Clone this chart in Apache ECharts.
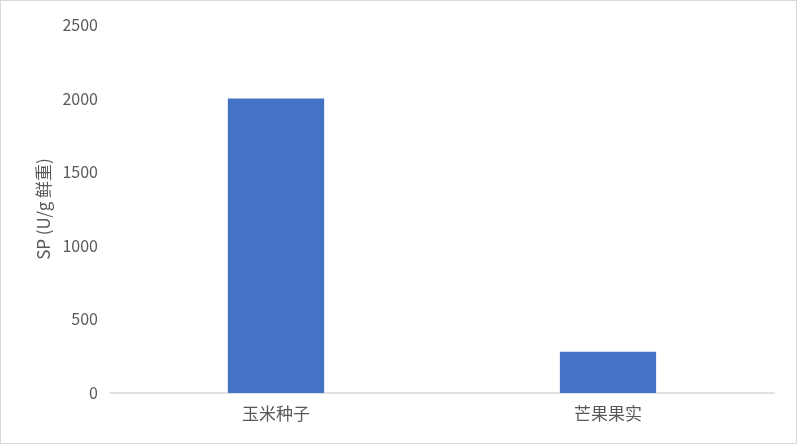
<!DOCTYPE html>
<html>
<head>
<meta charset="utf-8">
<script src="https://cdn.jsdelivr.net/npm/echarts@6/dist/echarts.min.js"></script>
<style>
  html, body { margin: 0; padding: 0; background: #fff; }
  #main { width: 795px; height: 442px; border: 1px solid #d9d9d9; }
</style>
</head>
<body>
<div id="main"></div>
<script>
var categories = ['玉米种子', '芒果果实'];
var spValues = [2000, 280];
var yTicks = { min: 0, max: 2500, interval: 500 };
var yName = 'SP (U/g 鲜重)';

var chart = echarts.init(document.getElementById('main'));
var option = {
    animation: false,
    textStyle: { fontFamily: '"Noto Sans CJK SC", "Noto Sans", sans-serif' },
    grid: { left: 109, right: 22, top: 24, bottom: 50 },
    xAxis: {
        type: 'category',
        data: categories,
        axisLine: { lineStyle: { color: '#d9d9d9', width: 1.5 } },
        axisTick: { show: false },
        axisLabel: { color: '#595959', fontSize: 17, margin: 12 }
    },
    yAxis: {
        type: 'value',
        min: yTicks.min,
        max: yTicks.max,
        interval: yTicks.interval,
        name: yName,
        nameLocation: 'middle',
        nameGap: 58,
        nameTextStyle: { color: '#595959', fontSize: 17 },
        axisLine: { show: false },
        axisTick: { show: false },
        splitLine: { show: false },
        axisLabel: {
            color: '#595959',
            fontSize: 16,
            margin: 12,
            formatter: function (v) { return String(v); }
        }
    },
    series: [
        {
            type: 'bar',
            data: spValues,
            barWidth: '29%',
            itemStyle: { color: '#4472c4' }
        }
    ]
};
chart.setOption(option);
</script>
</body>
</html>
